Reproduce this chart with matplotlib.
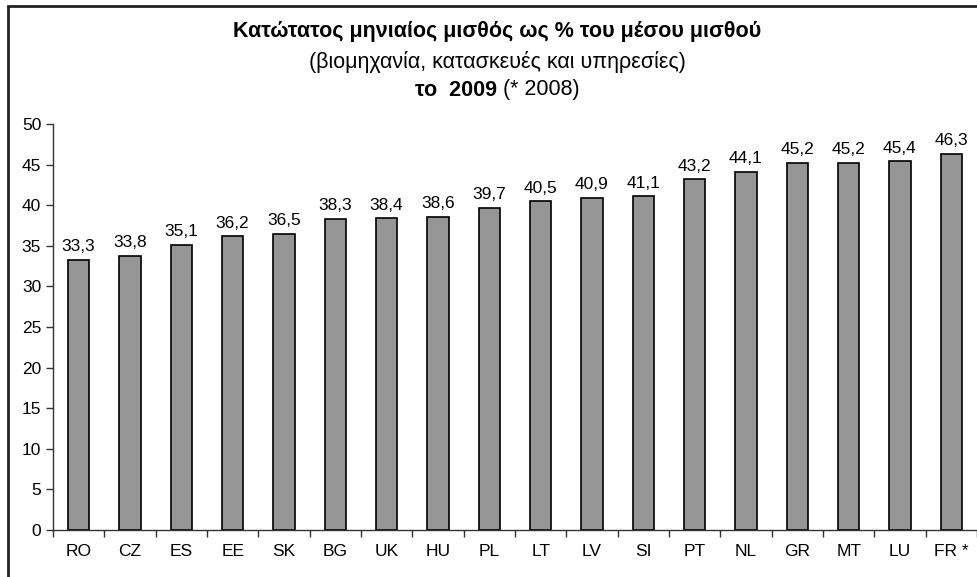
import matplotlib.pyplot as plt
from matplotlib.patches import Rectangle

plt.rcParams['font.family'] = ['Liberation Sans', 'DejaVu Sans']

countries = ["RO", "CZ", "ES", "EE", "SK", "BG", "UK", "HU", "PL",
             "LT", "LV", "SI", "PT", "NL", "GR", "MT", "LU", "FR *"]
values = [33.3, 33.8, 35.1, 36.2, 36.5, 38.3, 38.4, 38.6, 39.7,
          40.5, 40.9, 41.1, 43.2, 44.1, 45.2, 45.2, 45.4, 46.3]
yticks = [0, 5, 10, 15, 20, 25, 30, 35, 40, 45, 50]

W, H = 978, 577
fig = plt.figure(figsize=(W / 100, H / 100), dpi=100)

# chart-area frame (runs off the right and bottom edges)
fig.patches.append(Rectangle((8 / W, -0.05), 1.2, (H - 6) / H + 0.05,
                             transform=fig.transFigure, fill=False,
                             edgecolor='#222222', linewidth=2))

ax = fig.add_axes([53 / W, (H - 530) / H, (977 - 53) / W, (530 - 124) / H])
x = list(range(len(countries)))
bars = ax.bar(x, values, width=0.42, color='#969696',
              edgecolor='black', linewidth=1.2)

for xi, v in zip(x, values):
    ax.annotate(f"{v:.1f}".replace('.', ','), (xi, v), xytext=(0, 4),
                textcoords='offset points', ha='center', va='bottom',
                fontsize=12.5)

ax.set_xlim(-0.5, len(countries) - 0.5)
ax.set_ylim(0, 50)
ax.set_yticks(yticks)
ax.set_xticks([i - 0.5 for i in range(len(countries) + 1)], minor=False)
ax.set_xticklabels([])
ax.set_xticks(x, minor=True)
ax.set_xticklabels(countries, minor=True, fontsize=12.5)
ax.tick_params(axis='x', which='minor', length=0, pad=10)
ax.tick_params(axis='x', which='major', length=5, direction='out', width=1, color='#333333')
ax.tick_params(axis='y', length=5, direction='out', labelsize=12.5, width=1, color='#333333')

for side in ('top', 'right'):
    ax.spines[side].set_visible(False)
for side in ('left', 'bottom'):
    ax.spines[side].set_color('#333333')
    ax.spines[side].set_linewidth(1)

cx = 497 / W
fig.text(cx, 1 - 31 / H, "Κατώτατος μηνιαίος μισθός ως % του μέσου μισθού",
         ha='center', va='center', fontsize=15.5, fontweight='bold')
fig.text(cx, 1 - 62 / H, "(βιομηχανία, κατασκευές και υπηρεσίες)",
         ha='center', va='center', fontsize=15.5)

# third line: bold year followed by a normal-weight note, centred as a pair
renderer = fig.canvas.get_renderer()
t1 = fig.text(0, 1 - 90 / H, "το  2009", ha='left', va='center',
              fontsize=15.5, fontweight='bold')
t2 = fig.text(0, 1 - 90 / H, " (* 2008)", ha='left', va='center', fontsize=15.5)
w1 = t1.get_window_extent(renderer).width / W
w2 = t2.get_window_extent(renderer).width / W
left = cx - (w1 + w2) / 2
t1.set_x(left)
t2.set_x(left + w1)

fig.savefig("out.png", dpi=100, facecolor='white')
